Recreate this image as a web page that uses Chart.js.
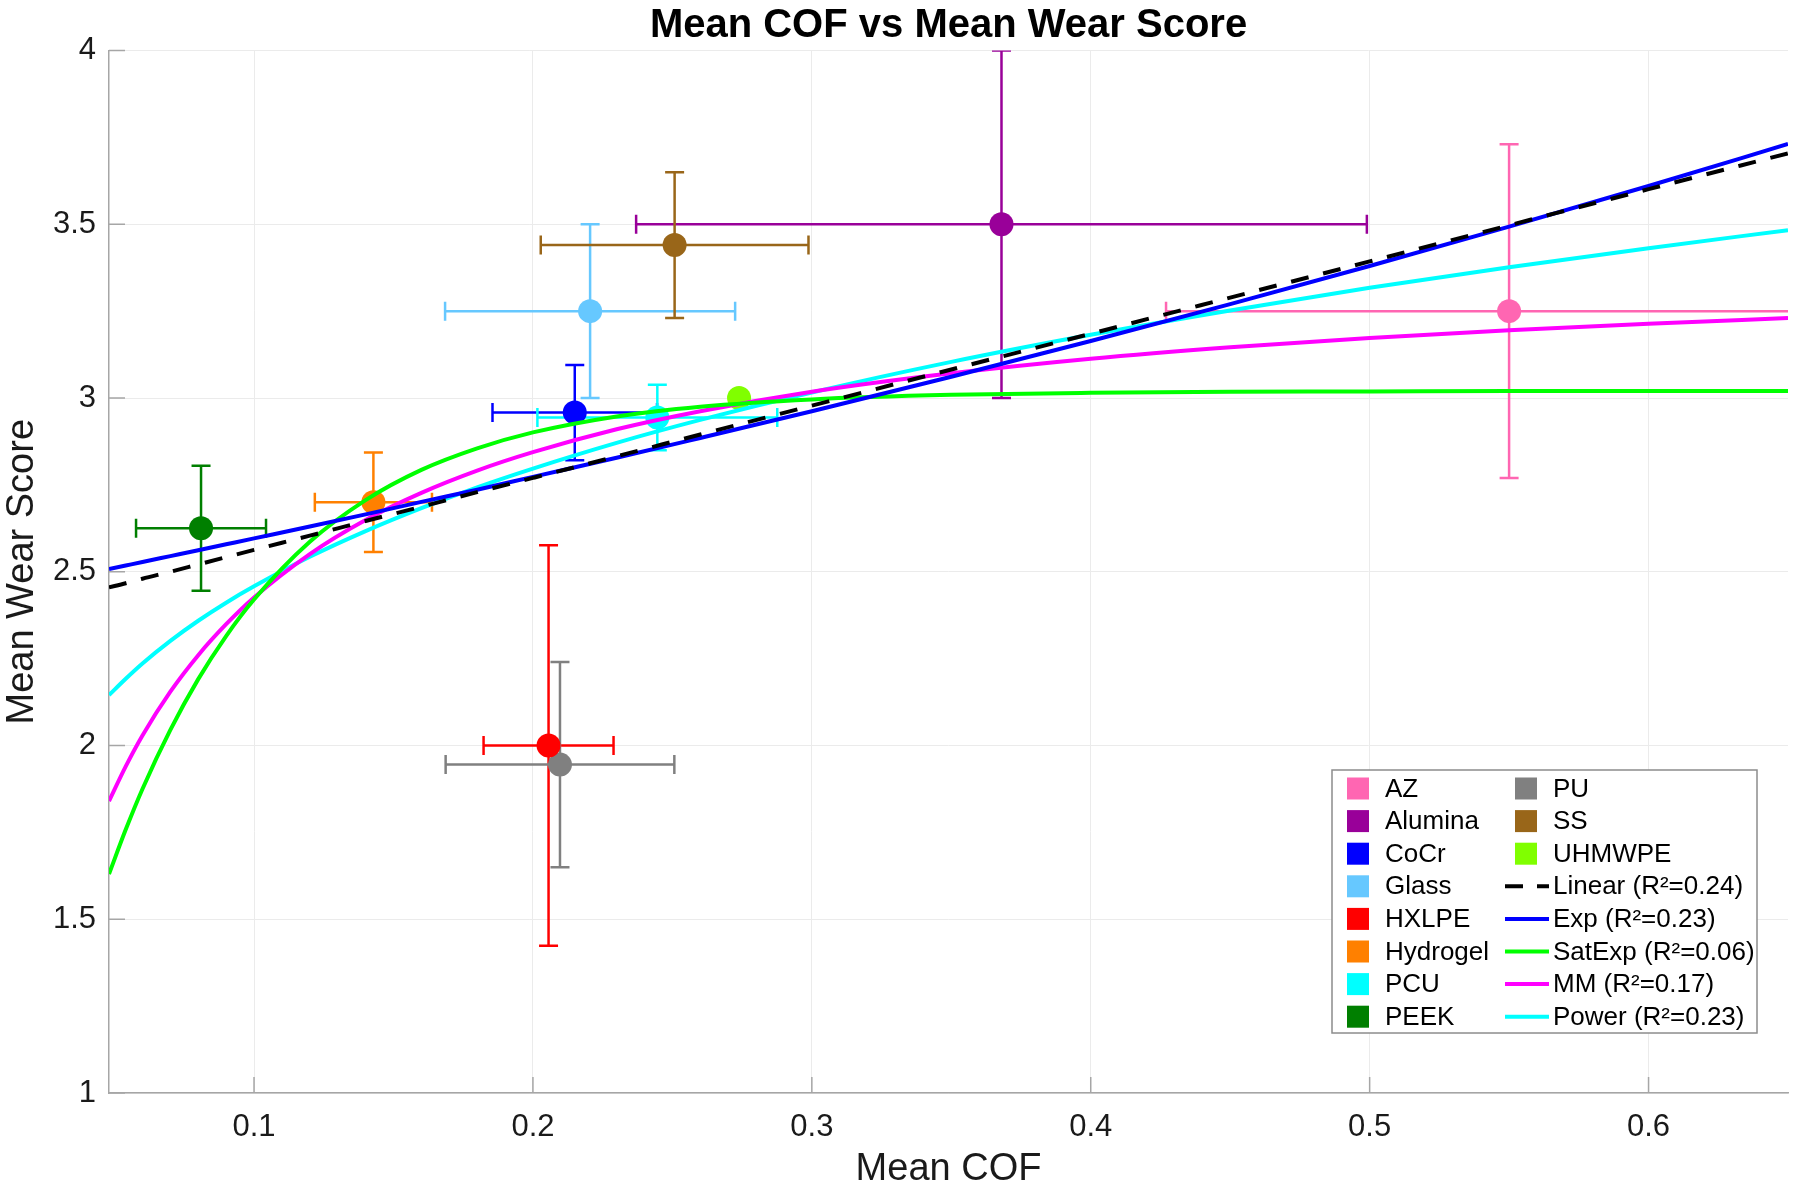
<!DOCTYPE html>
<html>
<head>
<meta charset="utf-8">
<script src="https://cdn.jsdelivr.net/npm/chart.js@4.4.1/dist/chart.umd.min.js"></script>
<style>
	html, body { margin: 0; padding: 0; background: #fff; }
	canvas { display: block; }
</style>
</head>
<body>
<canvas id="chartWear" width="1800" height="1192" style="width:1800px;height:1192px"></canvas>
<script>
'use strict'

// MATERIALS: mean COF / mean wear score with their spreads
const materials = ['AZ', 'Alumina', 'CoCr', 'Glass', 'HXLPE', 'Hydrogel', 'PCU', 'PEEK', 'PU', 'SS', 'UHMWPE'];
const meanCOF = [0.550, 0.368, 0.215, 0.2205, 0.2056, 0.1428, 0.2446, 0.081, 0.2097, 0.2508, 0.2739];
const meanWear = [3.25, 3.50, 2.958, 3.25, 2.00, 2.70, 2.944, 2.625, 1.945, 3.44, 3.00];
const sdCOF = [0.123, 0.131, 0.0295, 0.052, 0.0233, 0.021, 0.043, 0.0233, 0.041, 0.048, 0];
const sdWear = [0.48, 0.50, 0.137, 0.25, 0.576, 0.143, 0.094, 0.18, 0.295, 0.21, 0];

// FIT CURVES, sampled along COF
const fitX = [0.048, 0.054, 0.06, 0.07, 0.08, 0.09, 0.1, 0.12, 0.14, 0.16, 0.18, 0.2, 0.23, 0.26, 0.3, 0.35, 0.4, 0.45, 0.5, 0.55, 0.6, 0.65];
const linearFit = [2.455, 2.467, 2.480, 2.500, 2.521, 2.542, 2.563, 2.604, 2.646, 2.687, 2.729, 2.770, 2.832, 2.895, 2.978, 3.082, 3.185, 3.289, 3.393, 3.497, 3.601, 3.704];
const expFit = [2.508, 2.518, 2.528, 2.545, 2.562, 2.579, 2.596, 2.630, 2.665, 2.701, 2.736, 2.773, 2.828, 2.885, 2.962, 3.061, 3.164, 3.270, 3.380, 3.493, 3.610, 3.731];
const satExpFit = [1.630, 1.758, 1.875, 2.045, 2.191, 2.315, 2.420, 2.586, 2.706, 2.793, 2.855, 2.901, 2.947, 2.975, 2.996, 3.009, 3.015, 3.018, 3.019, 3.020, 3.020, 3.020];
const mmFit = [1.840, 1.940, 2.029, 2.155, 2.260, 2.349, 2.426, 2.551, 2.649, 2.727, 2.791, 2.844, 2.910, 2.962, 3.018, 3.071, 3.113, 3.146, 3.173, 3.195, 3.214, 3.230];
const powerFit = [2.145, 2.192, 2.236, 2.301, 2.359, 2.411, 2.458, 2.543, 2.617, 2.683, 2.743, 2.797, 2.871, 2.937, 3.016, 3.104, 3.182, 3.252, 3.317, 3.376, 3.431, 3.483];
const fitLabels = ['Linear (R²=0.24)', 'Exp (R²=0.23)', 'SatExp (R²=0.06)', 'MM (R²=0.17)', 'Power (R²=0.23)'];

const xTicks = [0.1, 0.2, 0.3, 0.4, 0.5, 0.6];
const yTicks = [1, 1.5, 2, 2.5, 3, 3.5, 4];
const chartTitle = 'Mean COF vs Mean Wear Score';

// STYLE
const fontFamily = '"Liberation Sans", Arial, Helvetica, sans-serif';
const materialColors = ['#ff66b2', '#990099', '#0000ff', '#66c8ff', '#ff0000', '#ff8000', '#00ffff', '#007f00', '#808080', '#996619', '#80ff00'];
const fitColors = ['#000000', '#0000ff', '#00ff00', '#ff00ff', '#00ffff'];
const axisColor = '#a6a6a6';
const gridColor = '#ebebeb';

Chart.defaults.font.family = fontFamily;

const fitValues = [linearFit, expFit, satExpFit, mmFit, powerFit];

let datasets = materials.map((name, i) => ({
	label: name,
	data: [{x: meanCOF[i], y: meanWear[i]}],
	pointRadius: 12,
	pointHoverRadius: 12,
	pointBorderWidth: 0,
	backgroundColor: materialColors[i],
	borderColor: materialColors[i],
	order: 1,
}));

fitValues.forEach((values, i) => {
	datasets.push({
		label: fitLabels[i],
		type: 'line',
		data: fitX.map((x, j) => ({x: x, y: values[j]})),
		borderColor: fitColors[i],
		borderWidth: 4,
		borderDash: i === 0 ? [18, 15] : [],
		pointRadius: 0,
		fill: false,
		cubicInterpolationMode: 'monotone',
		order: 0,
	});
});

// error bars under the markers
const errorBars = {
	id: 'errorBars',
	beforeDatasetsDraw(chart) {
		const { ctx, chartArea, scales: { x, y } } = chart;
		const cap = 9.5;
		ctx.save();
		ctx.beginPath();
		ctx.rect(chartArea.left, chartArea.top, chartArea.width, chartArea.height);
		ctx.clip();
		ctx.lineWidth = 2.5;
		meanCOF.forEach((cof, i) => {
			const px = x.getPixelForValue(cof);
			const py = y.getPixelForValue(meanWear[i]);
			ctx.strokeStyle = materialColors[i];
			ctx.beginPath();
			if (sdWear[i] > 0) {
				const top = y.getPixelForValue(meanWear[i] + sdWear[i]);
				const bottom = y.getPixelForValue(meanWear[i] - sdWear[i]);
				ctx.moveTo(px, top); ctx.lineTo(px, bottom);
				ctx.moveTo(px - cap, top); ctx.lineTo(px + cap, top);
				ctx.moveTo(px - cap, bottom); ctx.lineTo(px + cap, bottom);
			}
			if (sdCOF[i] > 0) {
				const left = x.getPixelForValue(cof - sdCOF[i]);
				const right = x.getPixelForValue(cof + sdCOF[i]);
				ctx.moveTo(left, py); ctx.lineTo(right, py);
				ctx.moveTo(left, py - cap); ctx.lineTo(left, py + cap);
				ctx.moveTo(right, py - cap); ctx.lineTo(right, py + cap);
			}
			ctx.stroke();
		});
		ctx.restore();
	},
};

// matlab style ticks pointing into the axes
const innerTicks = {
	id: 'innerTicks',
	beforeDatasetsDraw(chart) {
		const { ctx, chartArea, scales: { x, y } } = chart;
		const len = 16;
		ctx.save();
		ctx.strokeStyle = axisColor;
		ctx.lineWidth = 1.5;
		ctx.beginPath();
		xTicks.forEach(v => {
			const px = x.getPixelForValue(v);
			ctx.moveTo(px, chartArea.bottom);
			ctx.lineTo(px, chartArea.bottom - len);
		});
		yTicks.forEach(v => {
			const py = y.getPixelForValue(v);
			ctx.moveTo(chartArea.left, py);
			ctx.lineTo(chartArea.left + len, py);
		});
		ctx.stroke();
		ctx.restore();
	},
};

// title centred over the plot area, not the whole canvas
const plotTitle = {
	id: 'plotTitle',
	afterDraw(chart) {
		const { ctx, chartArea } = chart;
		ctx.save();
		ctx.font = 'bold 40px ' + fontFamily;
		ctx.fillStyle = '#000';
		ctx.textAlign = 'center';
		ctx.textBaseline = 'alphabetic';
		ctx.fillText(chartTitle, (chartArea.left + chartArea.right) / 2, 37);
		ctx.restore();
	},
};

// two column legend box, bottom right
const legendBox = {
	id: 'legendBox',
	afterDraw(chart) {
		const ctx = chart.ctx;
		const boxX = 1332, boxY = 770, boxW = 425, boxH = 263;
		const rowH = 32.6, firstRow = 788.5;
		ctx.save();
		ctx.fillStyle = '#fff';
		ctx.fillRect(boxX, boxY, boxW, boxH);
		ctx.strokeStyle = '#8c8c8c';
		ctx.lineWidth = 1.5;
		ctx.strokeRect(boxX, boxY, boxW, boxH);
		ctx.font = '26px ' + fontFamily;
		ctx.textBaseline = 'middle';
		chart.data.datasets.forEach((ds, i) => {
			const col = Math.floor(i / 8);
			const cy = firstRow + (i % 8) * rowH;
			const swatchX = col === 0 ? 1347 : 1515;
			const textX = col === 0 ? 1385 : 1553;
			if (ds.type === 'line') {
				ctx.strokeStyle = ds.borderColor;
				ctx.lineWidth = 4;
				ctx.setLineDash(ds.borderDash.length ? [18, 14] : []);
				ctx.beginPath();
				ctx.moveTo(1505, cy);
				ctx.lineTo(1549, cy);
				ctx.stroke();
				ctx.setLineDash([]);
			} else {
				ctx.fillStyle = ds.backgroundColor;
				ctx.fillRect(swatchX, cy - 11, 22, 22);
			}
			ctx.fillStyle = '#000';
			ctx.fillText(ds.label, textX, cy + 1);
		});
		ctx.restore();
	},
};

let chartWear = new Chart(document.getElementById('chartWear'), {
	type: 'scatter',
	data: { datasets: datasets },
	options: {
		responsive: false,
		animation: false,
		events: [],
		layout: {
			padding: { left: 0, right: 11, top: 50.5, bottom: 0 },
		},
		plugins: {
			legend: { display: false },
			tooltip: { enabled: false },
			title: { display: false },
		},
		scales: {
			x: {
				type: 'linear',
				min: 0.048,
				max: 0.65,
				afterBuildTicks: scale => { scale.ticks = xTicks.map(v => ({ value: v })); },
				afterFit: scale => { scale.height = 99; },
				ticks: {
					color: '#1a1a1a',
					font: { size: 31 },
					padding: 16,
					maxRotation: 0,
					callback: v => String(v),
				},
				grid: { color: gridColor, lineWidth: 1, drawTicks: false },
				border: { color: axisColor, width: 1.5 },
				title: {
					display: true,
					text: 'Mean COF',
					color: '#1a1a1a',
					font: { size: 38 },
					padding: { top: 0, bottom: 0 },
				},
			},
			y: {
				type: 'linear',
				min: 1,
				max: 4,
				afterBuildTicks: scale => { scale.ticks = yTicks.map(v => ({ value: v })); },
				afterFit: scale => { scale.width = 109; },
				ticks: {
					color: '#1a1a1a',
					font: { size: 31 },
					padding: 13,
					callback: v => String(v),
				},
				grid: { color: gridColor, lineWidth: 1, drawTicks: false },
				border: { color: axisColor, width: 1.5 },
				title: {
					display: true,
					text: 'Mean Wear Score',
					color: '#1a1a1a',
					font: { size: 38 },
					padding: { top: 0, bottom: 0 },
				},
			},
		},
	},
	plugins: [errorBars, innerTicks, plotTitle, legendBox],
});
</script>
</body>
</html>
